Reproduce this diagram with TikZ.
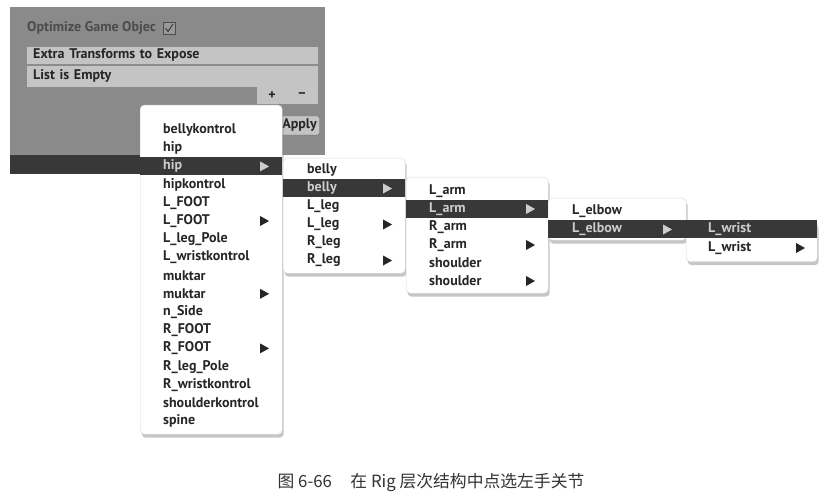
\documentclass[tikz,border=0pt]{standalone}
\usepackage{fontspec}
\setmainfont{PT Sans}
\newfontfamily\cjk{Noto Sans CJK SC}
\usetikzlibrary{shapes.geometric,shadows}

\definecolor{panelgray}{RGB}{138,138,138}
\definecolor{rowgray}{RGB}{196,196,196}
\definecolor{hlgray}{RGB}{56,56,56}
\definecolor{hltext}{RGB}{205,205,205}
\definecolor{itemtext}{RGB}{38,38,38}

\tikzset{
  menu/.style={fill=white, draw=black!15, rounded corners=4pt, anchor=north west, inner sep=0pt,
    drop shadow={opacity=0.45, shadow xshift=1.5pt, shadow yshift=-3.5pt}},
  item/.style={anchor=west, inner sep=0pt, text=itemtext, font=\fontsize{14}{16}\selectfont\bfseries},
  hlitem/.style={item, text=hltext},
  rowbox/.style={item, anchor=north west, fill=rowgray, draw=black!45, text width=278pt, inner xsep=7pt},
  submark/.style={isosceles triangle, isosceles triangle stretches, fill=itemtext,
    minimum width=10pt, minimum height=9pt, inner sep=0pt},
  hlmark/.style={submark, fill=hltext}
}

\begin{document}
\begin{tikzpicture}[x=1pt,y=-1pt]
  \useasboundingbox (0,0) rectangle (838,497);
  % inspector panel
  \fill[panelgray] (10,7) rectangle (325,155);
  \fill[hlgray] (10,155) rectangle (140,174);
  \node[item, text=black!70] (title) at (27,28) {Optimize Game Objec};
  \node[draw=black!70, fill=black!40, minimum size=12pt, inner sep=0pt] (check) at (169,28) {};
  \draw[thick, black!85] ([shift={(-3.5,0)}]check.center) -- ([shift={(-1,3.5)}]check.center)
    -- ([shift={(4,-4)}]check.center);
  \node[rowbox, minimum height=18pt] (extra) at (26,46) {Extra Transforms to Expose};
  \node[rowbox, minimum height=22pt] (empty) at (26,65) {List is Empty};
  \node[fill=rowgray, minimum width=61pt, minimum height=17pt, anchor=north west] (btns) at (257,87) {};
  \node[item, anchor=center] (plus) at (272,95.5) {+};
  \node[item, anchor=center] (minus) at (302,95.5) {–};
  \node[item, anchor=center, draw=black!60, fill=rowgray, rounded corners=2pt,
    minimum width=40pt, minimum height=19pt] (apply) at (299.5,125.5) {Apply};

  % menu A
  \node[menu, minimum width=142pt, minimum height=329pt] (menuA) at (140,105) {};
  \fill[hlgray] (140,157.3) rectangle (282,175.5);
  \foreach \t/\s [count=\i] in {bellykontrol/item, hip/item, hip/hlitem, hipkontrol/item,
      L\_FOOT/item, L\_FOOT/item, L\_leg\_Pole/item, L\_wristkontrol/item, muktar/item,
      muktar/item, n\_Side/item, R\_FOOT/item, R\_FOOT/item, R\_leg\_Pole/item,
      R\_wristkontrol/item, shoulderkontrol/item, spine/item}
    \node[\s] (a\i) at (163,{111.8+18.2*\i}) {\t};
  \node[hlmark] (ta3) at (263,166.4) {};
  \foreach \i in {6,10,13}
    \node[submark] (ta\i) at (263,{111.8+18.2*\i}) {};

  % menu B
  \node[menu, minimum width=122pt, minimum height=115pt] (menuB) at (283,158) {};
  \fill[hlgray] (283,179.5) rectangle (405,197.5);
  \foreach \t/\s [count=\i] in {belly/item, belly/hlitem, L\_leg/item, L\_leg/item, R\_leg/item, R\_leg/item}
    \node[\s] (b\i) at (307,{152.5+18*\i}) {\t};
  \node[hlmark] (tb2) at (386,188.5) {};
  \foreach \i in {4,6}
    \node[submark] (tb\i) at (386,{152.5+18*\i}) {};

  % menu C
  \node[menu, minimum width=142pt, minimum height=116pt] (menuC) at (406,177) {};
  \fill[hlgray] (406,200) rectangle (548,218);
  \foreach \t/\s [count=\i] in {L\_arm/item, L\_arm/hlitem, R\_arm/item, R\_arm/item, shoulder/item, shoulder/item}
    \node[\s] (c\i) at (429,{173+18*\i}) {\t};
  \node[hlmark] (tc2) at (529,209) {};
  \foreach \i in {4,6}
    \node[submark] (tc\i) at (529,{173+18*\i}) {};

  % menu D
  \node[menu, minimum width=138pt, minimum height=42pt] (menuD) at (548,198) {};
  \fill[hlgray] (548,220.5) rectangle (686,238.5);
  \node[item] (d1) at (572,211.5) {L\_elbow};
  \node[hlitem] (d2) at (572,229.5) {L\_elbow};
  \node[hlmark] (td2) at (666,229.5) {};

  % menu E
  \node[menu, minimum width=131pt, minimum height=41pt] (menuE) at (686,220.5) {};
  \fill[hlgray] (686,220.5) rectangle (817,238.5);
  \node[hlitem] (e1) at (708,229.5) {L\_wrist};
  \node[item] (e2) at (708,248) {L\_wrist};
  \node[submark] (te2) at (799,248) {};

  \node[font=\cjk\fontsize{16.8}{20}\selectfont, text=black!80] (caption) at (431,483)
    {图 6-66\hspace{1.1em}在 Rig 层次结构中点选左手关节};
\end{tikzpicture}
\end{document}
